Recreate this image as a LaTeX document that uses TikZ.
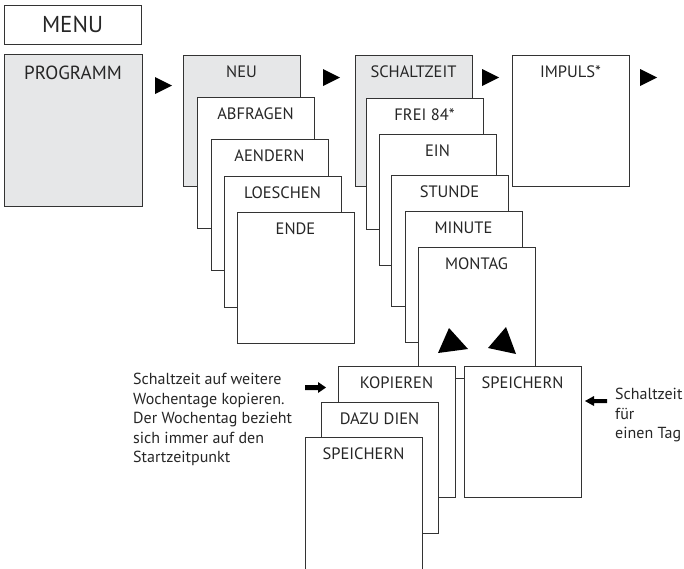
\documentclass[tikz,border=0pt]{standalone}
\usepackage{fontspec}
\setmainfont{PT Sans}
\definecolor{cardgrey}{HTML}{E6E7E8}
\definecolor{edge}{HTML}{333333}
\begin{document}
\begin{tikzpicture}[x=1pt,y=-1pt,
  card/.style={draw=edge, line width=0.9pt, fill=white, anchor=north west,
    minimum width=117pt, minimum height=131pt, inner sep=0pt, outer sep=0pt},
  greycard/.style={card, fill=cardgrey},
  lbl/.style={anchor=base, inner sep=0pt, font=\fontsize{16.5}{20}\selectfont, text=black!85},
  note/.style={anchor=north west, inner sep=0pt, align=left, font=\fontsize{16}{19.5}\selectfont, text=black!85},
  tri/.style={fill=black}]
\useasboundingbox (0,0) rectangle (684,568);

% MENU and PROGRAMM
\node[card, minimum width=137pt, minimum height=39pt] (menu) at (4,5) {};
\node[anchor=center, inner sep=0pt, font=\fontsize{23}{26}\selectfont, text=black!85] (menut) at (menu.center) {MENU};
\node[greycard, minimum width=138pt, minimum height=152pt] (prog) at (4,54) {};
\node[lbl, font=\fontsize{19}{23}\selectfont] (progt) at ([yshift=-25pt]prog.north) {PROGRAMM};

% column 2
\node[greycard] (neu) at (183,55) {};
\node[lbl] at ([yshift=-22pt]neu.north) {NEU};
\node[card] (abfr) at (197,97) {};
\node[lbl] at ([yshift=-22pt]abfr.north) {ABFRAGEN};
\node[card] (aend) at (211,139) {};
\node[lbl] at ([yshift=-22pt]aend.north) {AENDERN};
\node[card] (loes) at (224,176) {};
\node[lbl] at ([yshift=-22pt]loes.north) {LOESCHEN};
\node[card] (ende) at (237,212) {};
\node[lbl] at ([yshift=-22pt]ende.north) {ENDE};

% column 3
\node[greycard] (schz) at (355,55) {};
\node[lbl] at ([yshift=-22pt]schz.north) {SCHALTZEIT};
\node[card] (frei) at (366,98) {};
\node[lbl] at ([yshift=-22pt]frei.north) {FREI 84*};
\node[card] (ein) at (379,134) {};
\node[lbl] at ([yshift=-22pt]ein.north) {EIN};
\node[card] (stun) at (391,175) {};
\node[lbl] at ([yshift=-22pt]stun.north) {STUNDE};
\node[card] (minu) at (405,211) {};
\node[lbl] at ([yshift=-22pt]minu.north) {MINUTE};
\node[card] (mont) at (418,247) {};
\node[lbl] at ([yshift=-22pt]mont.north) {MONTAG};

% column 4
\node[card] (imp) at (512,55) {};
\node[lbl] at ([yshift=-22pt]imp.north) {IMPULS*};

% bottom stacks
\node[card] (kop) at (338,366) {};
\node[lbl] at ([yshift=-22pt]kop.north) {KOPIEREN};
\node[card] (dazu) at (321,402) {};
\node[lbl] at ([yshift=-22pt]dazu.north) {DAZU DIEN};
\node[card, minimum height=140pt] (speil) at (305,437) {};
\node[lbl] at ([yshift=-22pt]speil.north) {SPEICHERN};
\node[card] (speir) at (464,366) {};
\node[lbl] at ([yshift=-22pt]speir.north) {SPEICHERN};

% right-pointing triangles
\fill[tri] (155,77) -- (172,85.5) -- (155,94) -- cycle;
\fill[tri] (323,69) -- (340,77.5) -- (323,86) -- cycle;
\fill[tri] (482,69) -- (499,77.5) -- (482,86) -- cycle;
\fill[tri] (640,69) -- (657,77.5) -- (640,86) -- cycle;

% triangles inside MONTAG
\fill[tri] (438,353) -- (468,349) -- (449,328) -- cycle;
\fill[tri] (488,348) -- (516,354) -- (506,327) -- cycle;

% thick pointer arrows
\fill[tri] (305,385) -- (318,385) -- (318,382) -- (326,387.5) -- (318,393) -- (318,390) -- (305,390) -- cycle;
\fill[tri] (607,399) -- (594,399) -- (594,396) -- (585,401) -- (594,406) -- (594,403) -- (607,403) -- cycle;

% notes
\node[note] (noteL) at (133,373) {Schaltzeit auf weitere\\Wochentage kopieren.\\Der Wochentag bezieht\\sich immer auf den\\Startzeitpunkt};
\node[note] (noteR) at (615,388) {Schaltzeit\\für\\einen Tag};
\end{tikzpicture}
\end{document}
